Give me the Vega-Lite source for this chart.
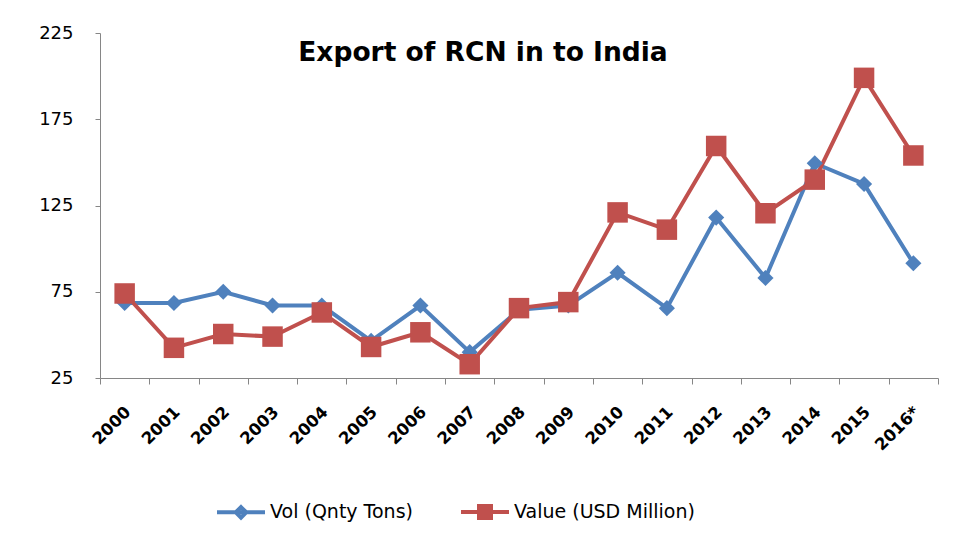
{
  "$schema": "https://vega.github.io/schema/vega-lite/v6.json",
  "autosize": "none",
  "width": 838,
  "height": 345,
  "padding": {"left": 100, "top": 33, "right": 16, "bottom": 166},
  "background": "white",
  "config": {
    "font": "DejaVu Sans",
    "view": {"stroke": null}
  },
  "title": {
    "text": "Export of RCN in to India",
    "fontSize": 26.5,
    "fontWeight": "bold",
    "color": "black",
    "anchor": "middle",
    "frame": "group",
    "offset": -42,
    "dx": -36
  },
  "data": {
    "values": [
      {"year": "2000", "series": "Vol (Qnty Tons)", "value": 68.5},
      {"year": "2001", "series": "Vol (Qnty Tons)", "value": 68.5},
      {"year": "2002", "series": "Vol (Qnty Tons)", "value": 75},
      {"year": "2003", "series": "Vol (Qnty Tons)", "value": 67},
      {"year": "2004", "series": "Vol (Qnty Tons)", "value": 67},
      {"year": "2005", "series": "Vol (Qnty Tons)", "value": 46.5},
      {"year": "2006", "series": "Vol (Qnty Tons)", "value": 67},
      {"year": "2007", "series": "Vol (Qnty Tons)", "value": 40},
      {"year": "2008", "series": "Vol (Qnty Tons)", "value": 64.5},
      {"year": "2009", "series": "Vol (Qnty Tons)", "value": 67},
      {"year": "2010", "series": "Vol (Qnty Tons)", "value": 86},
      {"year": "2011", "series": "Vol (Qnty Tons)", "value": 65.5},
      {"year": "2012", "series": "Vol (Qnty Tons)", "value": 118},
      {"year": "2013", "series": "Vol (Qnty Tons)", "value": 83},
      {"year": "2014", "series": "Vol (Qnty Tons)", "value": 149.5},
      {"year": "2015", "series": "Vol (Qnty Tons)", "value": 137.5},
      {"year": "2016*", "series": "Vol (Qnty Tons)", "value": 91.5},
      {"year": "2000", "series": "Value (USD Million)", "value": 74},
      {"year": "2001", "series": "Value (USD Million)", "value": 42.5},
      {"year": "2002", "series": "Value (USD Million)", "value": 50.5},
      {"year": "2003", "series": "Value (USD Million)", "value": 49},
      {"year": "2004", "series": "Value (USD Million)", "value": 63},
      {"year": "2005", "series": "Value (USD Million)", "value": 43},
      {"year": "2006", "series": "Value (USD Million)", "value": 51.5},
      {"year": "2007", "series": "Value (USD Million)", "value": 33},
      {"year": "2008", "series": "Value (USD Million)", "value": 65.5},
      {"year": "2009", "series": "Value (USD Million)", "value": 69},
      {"year": "2010", "series": "Value (USD Million)", "value": 121},
      {"year": "2011", "series": "Value (USD Million)", "value": 111},
      {"year": "2012", "series": "Value (USD Million)", "value": 159.5},
      {"year": "2013", "series": "Value (USD Million)", "value": 120.5},
      {"year": "2014", "series": "Value (USD Million)", "value": 140},
      {"year": "2015", "series": "Value (USD Million)", "value": 199},
      {"year": "2016*", "series": "Value (USD Million)", "value": 154}
    ]
  },
  "encoding": {
    "x": {
      "field": "year",
      "type": "nominal",
      "sort": null,
      "scale": {"paddingInner": 0, "paddingOuter": 0},
      "axis": {
        "title": null,
        "labelAngle": -45,
        "labelAlign": "right",
        "labelBaseline": "middle",
        "labelFontSize": 16.5,
        "labelFontWeight": "bold",
        "labelColor": "black",
        "labelPadding": 25,
        "labelOffset": 3,
        "tickBand": "extent",
        "tickSize": 6,
        "tickColor": "#868686",
        "domainColor": "#868686",
        "grid": false
      }
    },
    "y": {
      "field": "value",
      "type": "quantitative",
      "scale": {"domain": [25, 225], "nice": false, "zero": false},
      "axis": {
        "title": null,
        "values": [25, 75, 125, 175, 225],
        "labelFontSize": 18,
        "labelColor": "black",
        "labelPadding": 22,
        "tickSize": 5,
        "tickColor": "#868686",
        "domainColor": "#868686",
        "grid": false
      }
    }
  },
  "layer": [
    {
      "mark": {"type": "line", "strokeWidth": 4},
      "encoding": {
        "color": {
          "field": "series",
          "type": "nominal",
          "scale": {
            "domain": ["Vol (Qnty Tons)", "Value (USD Million)"],
            "range": ["#4F81BD", "#C0504D"]
          },
          "legend": {
            "title": null,
            "orient": "none",
            "direction": "horizontal",
            "legendX": 115,
            "legendY": 453,
            "symbolSize": 2304,
            "symbolStrokeWidth": 4,
            "symbolOpacity": 1,
            "labelFontSize": 19,
            "labelColor": "black",
            "labelOffset": 3,
            "labelLimit": 0,
            "columnPadding": 40
          }
        }
      }
    },
    {
      "transform": [{"filter": {"field": "series", "equal": "none"}}],
      "mark": {"type": "point", "filled": false, "opacity": 1, "strokeWidth": 4},
      "encoding": {
        "color": {"field": "series", "type": "nominal"},
        "shape": {
          "field": "series",
          "type": "nominal",
          "scale": {
            "domain": ["Vol (Qnty Tons)", "Value (USD Million)"],
            "range": [
              "M-1,0H1M0,-0.22L0.22,0L0,0.22L-0.22,0Z",
              "M-1,0H1M-0.25,-0.25H0.25V0.25H-0.25ZM-0.1,-0.1H0.1V0.1H-0.1Z"
            ]
          }
        }
      }
    },
    {
      "transform": [{"filter": {"field": "series", "equal": "Vol (Qnty Tons)"}}],
      "mark": {"type": "point", "filled": true, "opacity": 1, "shape": "diamond", "size": 260, "color": "#4F81BD"}
    },
    {
      "transform": [{"filter": {"field": "series", "equal": "Value (USD Million)"}}],
      "mark": {"type": "point", "filled": true, "opacity": 1, "shape": "square", "size": 420, "color": "#C0504D"}
    }
  ]
}
